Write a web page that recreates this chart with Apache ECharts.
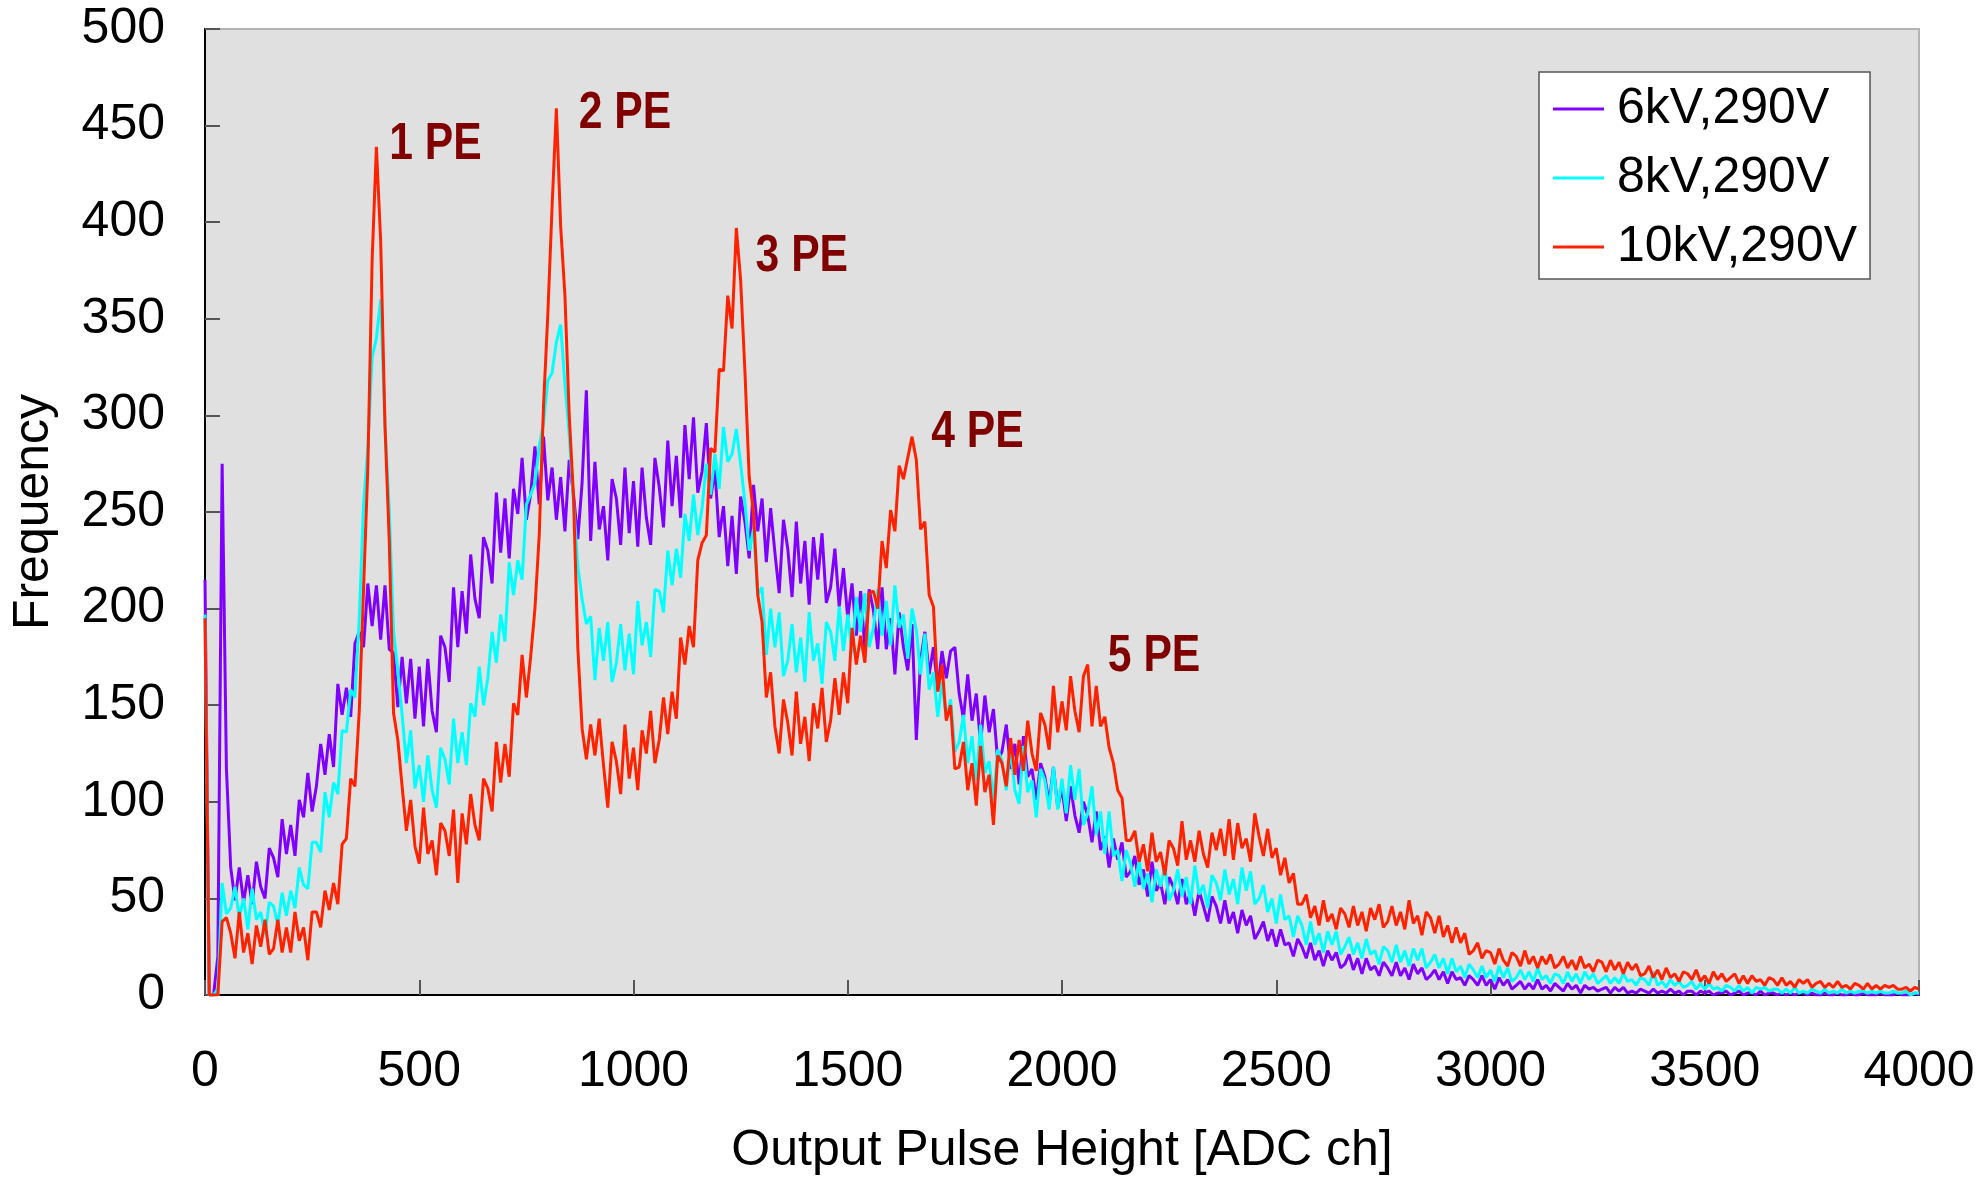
<!DOCTYPE html>
<html><head><meta charset="utf-8">
<script src="https://cdn.jsdelivr.net/npm/echarts@6/dist/echarts.min.js"></script>
<style>html,body{margin:0;padding:0;background:#fff;}#chart{width:1981px;height:1181px;}</style>
</head><body><div id="chart"></div>
<script>
// Channel spacing of the sampled histogram (ADC ch)
const channelStep = 10;
const seriesNames = ['6kV,290V', '8kV,290V', '10kV,290V'];
const seriesColors = ['#8000ff', '#00ffff', '#ff2200'];

// 6kV,290V  (channels 0..4000 step 10)
const v6kV = [
215,0,0,20,275,117,66,49,66,48,
62,47,69,56,50,76,71,61,91,73,
88,72,101,92,115,95,108,130,114,135,
118,161,145,159,144,182,188,180,213,191,
212,184,212,179,177,149,175,151,174,143,
170,139,174,147,136,186,180,162,211,180,
209,187,228,205,195,237,230,213,260,229,
257,226,262,249,278,246,259,284,254,289,
256,273,246,268,240,277,259,236,265,313,
235,276,241,253,225,267,257,233,273,239,
266,232,273,247,233,278,263,242,287,253,
279,247,295,267,299,260,271,296,257,272,
237,253,222,248,218,258,245,226,264,240,
257,224,252,229,208,246,231,206,245,213,
235,202,237,215,239,203,211,231,201,221,
195,213,186,209,179,210,199,179,211,179,
195,166,198,180,168,192,132,173,188,166,
180,158,178,164,178,180,156,143,166,142,
156,130,155,136,148,121,126,140,117,130,
109,134,113,117,101,120,113,99,118,97,
107,90,108,93,84,100,93,79,95,75,
82,66,81,70,79,61,64,72,57,65,
51,69,54,58,47,61,56,47,60,47,
53,41,54,46,38,51,46,37,49,37,
43,32,44,36,41,29,33,38,28,34,
25,34,26,27,20,29,25,19,27,18,
23,15,23,18,22,14,16,21,13,19,
11,19,13,15,10,17,14,10,17,10,
14,8,16,11,14,8,10,13,8,12,
6,12,8,9,5,10,8,5,10,5,
8,3,9,5,8,3,5,7,3,6,
3,8,3,5,2,6,4,2,6,3,
5,1,5,3,4,2,3,4,1,4,
2,4,1,2,1,3,2,1,3,1,
2,1,3,1,2,0,2,2,0,2,
1,2,0,1,1,2,0,1,2,0,
1,1,0,2,0,1,1,0,1,0,
1,0,1,1,0,1,0,0,1,0,
0,1,0,0,1,0,0,1,0,0,
0,1,0,0,0,1,0,0,0,1,
0];

// 8kV,290V
const v8kV = [
197,0,0,3,58,42,45,56,40,50,
34,55,39,43,31,48,46,36,53,41,
54,45,66,57,55,79,79,74,105,92,
110,104,137,136,158,154,195,254,283,330,
340,360,295,251,188,168,145,120,137,107,
119,100,124,106,97,128,122,109,143,120,
136,119,151,144,170,150,164,188,172,197,
183,224,207,225,215,254,259,265,284,296,
318,322,338,347,316,290,255,222,205,192,
196,163,190,173,193,162,172,192,168,187,
166,204,181,193,175,210,209,198,230,212,
231,216,249,235,259,238,252,275,259,280,
262,294,276,280,293,275,255,230,241,207,
211,176,200,180,198,165,173,192,167,185,
162,198,173,182,161,193,188,173,201,178,
197,177,206,188,208,180,190,210,186,204,
181,212,190,197,174,200,189,166,187,158,
167,144,162,143,153,126,131,145,120,134,
111,140,115,121,101,127,121,106,128,106,
99,129,105,111,92,117,111,96,118,96,
112,94,119,101,117,88,94,108,83,95,
73,95,72,75,59,75,68,56,70,55,
63,48,65,56,67,49,54,65,51,61,
47,67,52,57,45,62,58,49,65,52,
60,47,66,54,64,47,50,57,43,50,
37,52,39,41,30,41,36,26,38,26,
32,22,33,26,33,21,25,30,21,27,
19,29,21,23,16,25,23,17,26,17,
23,15,24,18,24,14,17,21,14,19,
11,19,12,15,9,16,13,9,15,9,
13,7,15,9,14,7,9,13,8,12,
7,14,8,10,6,11,10,6,12,7,
11,6,12,8,11,6,8,10,6,9,
6,11,7,8,5,9,8,5,12,5,
7,4,8,5,7,4,5,7,3,6,
3,6,3,4,2,5,4,2,5,2,
4,1,4,3,4,2,3,3,1,3,
1,4,1,2,1,3,2,1,3,1,
2,1,3,1,2,1,2,2,1,2,
1,2,1,1,2,1,1,2,0,1,
1];

// 10kV,290V
const v10kV = [
195,0,0,0,38,40,32,19,43,22,
32,16,36,25,39,21,24,39,22,35,
22,43,28,35,18,43,43,35,54,44,
58,47,78,81,112,108,147,210,273,380,
439,390,295,235,146,132,108,85,101,77,
68,97,73,80,62,89,85,72,96,58,
94,78,104,88,80,112,107,95,131,110,
130,113,151,145,176,154,175,200,238,305,
352,408,459,398,362,300,258,180,138,122,
140,124,143,119,97,131,121,104,140,112,
128,106,137,125,147,120,132,154,135,157,
143,185,171,191,180,225,234,238,283,281,
324,323,362,345,397,370,323,268,250,207,
193,154,167,139,125,153,141,124,157,130,
144,121,151,138,159,131,142,164,145,167,
151,190,171,186,172,208,209,200,235,221,
251,240,274,267,278,289,277,241,245,207,
201,157,171,142,150,117,118,131,106,120,
98,129,105,114,88,124,120,108,133,114,
132,116,142,125,116,146,140,127,160,136,
152,137,165,147,136,165,171,139,160,139,
144,128,120,106,102,80,80,85,69,78,
64,84,69,74,62,80,76,67,90,70,
80,69,85,73,66,84,75,86,72,91,
70,89,76,81,69,94,82,72,86,71,
76,62,71,58,63,47,47,52,40,46,
36,49,38,42,34,45,42,35,46,36,
43,33,45,39,47,35,38,46,36,43,
34,49,37,41,31,43,40,32,41,30,
36,27,35,27,32,21,23,27,19,23,
22,16,24,18,15,22,20,15,23,16,
20,14,20,16,21,14,16,20,14,18,
13,20,14,16,12,18,17,12,18,13,
17,11,17,13,16,10,11,15,9,13,
8,14,9,11,7,12,11,8,13,7,
10,6,12,8,11,7,9,11,6,10,
6,10,7,8,5,9,8,5,9,5,
7,4,8,6,8,4,6,7,4,6,
4,7,4,5,3,6,5,3,6,3,
5,3,5,4,5,3,3,4,2,4,
3];

// Peak annotations (data coordinates: left edge of text, vertical centre)
const peakLabels = ['1 PE', '2 PE', '3 PE', '4 PE', '5 PE'];
const peakLabelX = [430, 872, 1285, 1695, 2107];
const peakLabelY = [440, 456, 382, 291, 175];

const FONT = "'Liberation Sans', Arial, Helvetica, sans-serif";

const seriesValues = [v6kV, v8kV, v10kV];
const lineSeries = seriesValues.map((vals, s) => ({
  name: seriesNames[s],
  type: 'line',
  data: vals.map((y, i) => [i * channelStep, y]),
  symbol: 'none',
  showSymbol: false,
  lineStyle: { color: seriesColors[s], width: 3 },
  itemStyle: { color: seriesColors[s] },
  emphasis: { disabled: true },
  z: 2 + s
}));

const chart = echarts.init(document.getElementById('chart'), null, { renderer: 'canvas' });
chart.setOption({
  animation: false,
  backgroundColor: '#ffffff',
  grid: {
    left: 205, top: 29, width: 1714, height: 967,
    show: true, backgroundColor: '#e0e0e0', borderColor: '#b4b4b4', borderWidth: 2
  },
  xAxis: {
    type: 'value', min: 0, max: 4000, interval: 500,
    name: 'Output Pulse Height [ADC ch]', nameLocation: 'middle', nameGap: 131,
    nameTextStyle: { fontFamily: FONT, fontSize: 50, color: '#000' },
    axisLine: { show: true, onZero: false, lineStyle: { color: '#000', width: 2 } },
    axisTick: { show: true, inside: true, length: 15, lineStyle: { color: '#555', width: 2 } },
    axisLabel: { fontFamily: FONT, fontSize: 50, color: '#000', margin: 52,
                 showMinLabel: true, showMaxLabel: true, formatter: v => String(v) },
    splitLine: { show: false }
  },
  yAxis: {
    type: 'value', min: 0, max: 500, interval: 50,
    name: 'Frequency', nameLocation: 'middle', nameGap: 146,
    nameTextStyle: { fontFamily: FONT, fontSize: 50, color: '#000' },
    axisLine: { show: true, onZero: false, lineStyle: { color: '#000', width: 2 } },
    axisTick: { show: true, inside: true, length: 15, lineStyle: { color: '#555', width: 2 } },
    axisLabel: { fontFamily: FONT, fontSize: 50, color: '#000', margin: 40, formatter: v => String(v) },
    splitLine: { show: false }
  },
  legend: {
    data: seriesNames,
    orient: 'vertical',
    left: 1539, top: 72,
    backgroundColor: '#ffffff',
    borderColor: '#555', borderWidth: 1.5, borderRadius: 0,
    padding: [12, 13, 7, 14],
    icon: 'rect',
    itemWidth: 51, itemHeight: 3, itemGap: 19,
    selectedMode: false,
    textStyle: { fontFamily: FONT, fontSize: 50, color: '#000', lineHeight: 50, padding: [0, 0, 0, 8] }
  },
  series: lineSeries
});

// Peak labels, positioned through the chart's own coordinate system
const annotationGraphics = peakLabels.map((t, i) => {
  const p = chart.convertToPixel({ gridIndex: 0 }, [peakLabelX[i], peakLabelY[i]]);
  return {
    type: 'text',
    x: p[0], y: p[1],
    scaleX: 0.82,
    z: 100,
    silent: true,
    style: {
      text: t,
      fill: '#800000',
      font: "bold 52px 'Liberation Sans', Arial, sans-serif",
      align: 'left',
      verticalAlign: 'middle'
    }
  };
});
chart.setOption({ graphic: annotationGraphics });
</script>
</body></html>
